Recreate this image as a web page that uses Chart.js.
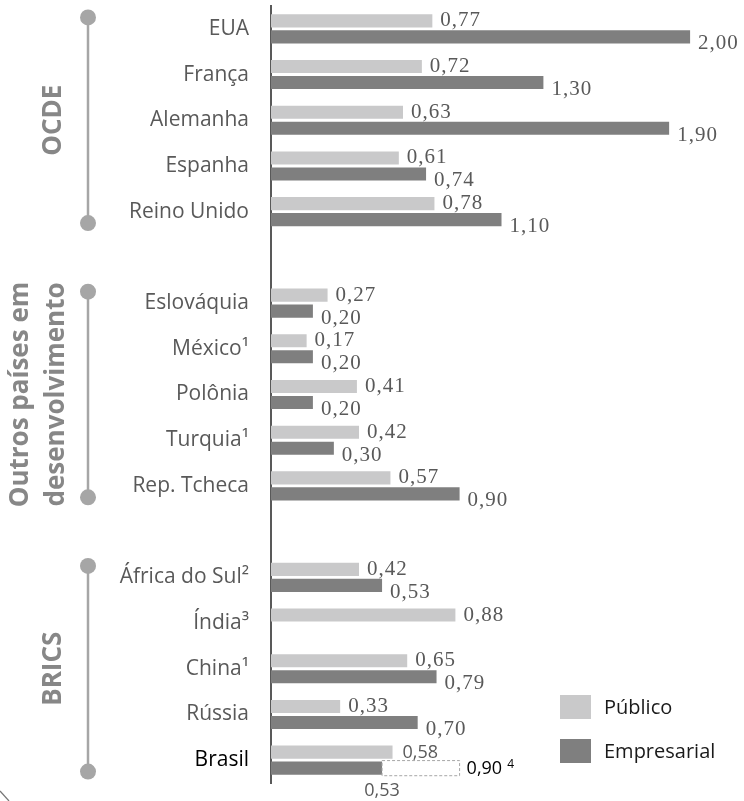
<!DOCTYPE html>
<html lang="pt-BR">
<head>
<meta charset="utf-8">
<title>Investimento em P&amp;D: público e empresarial</title>
<script src="https://cdn.jsdelivr.net/npm/chart.js@4.4.1/dist/chart.umd.min.js"></script>
<style>
  html, body { margin: 0; padding: 0; background: #fff; }
  #wrap { position: relative; width: 744px; height: 801px; }
</style>
</head>
<body>
<div id="wrap"><canvas id="rdChart"></canvas></div>
<script>
// categorias (linhas vazias separam os grupos)
const categories = [
  'EUA', 'França', 'Alemanha', 'Espanha', 'Reino Unido', '',
  'Eslováquia', 'México¹', 'Polônia', 'Turquia¹', 'Rep. Tcheca', '',
  'África do Sul²', 'Índia³', 'China¹', 'Rússia', 'Brasil'
];
const publico = [0.77, 0.72, 0.63, 0.61, 0.78, null,
                 0.27, 0.17, 0.41, 0.42, 0.57, null,
                 0.42, 0.88, 0.65, 0.33, 0.58];
const empresarial = [2.00, 1.30, 1.90, 0.74, 1.10, null,
                     0.20, 0.20, 0.20, 0.30, 0.90, null,
                     0.53, null, 0.79, 0.70, 0.53];
// estimativa para o Brasil (caixa tracejada, nota 4)
const brasilEstimado = 0.90;
const groups = [
  { label: ['OCDE'], from: 0, to: 4 },
  { label: ['Outros países em', 'desenvolvimento'], from: 6, to: 10 },
  { label: ['BRICS'], from: 12, to: 16 }
];

const brasilIdx = categories.indexOf('Brasil');
const extensao = categories.map((c, i) =>
  i === brasilIdx ? +(brasilEstimado - empresarial[i]).toFixed(2) : null);

const fmt = v => v.toFixed(2).replace('.', ',');

const decorPlugin = {
  id: 'decor',
  afterDatasetsDraw(chart) {
    const ctx = chart.ctx;
    const yScale = chart.scales.y;
    ctx.save();

    // rótulos de valores
    ctx.textAlign = 'left';
    ctx.textBaseline = 'middle';
    [0, 1].forEach(di => {
      const meta = chart.getDatasetMeta(di);
      meta.data.forEach((bar, i) => {
        const v = chart.data.datasets[di].data[i];
        if (v == null || i === brasilIdx) return;
        ctx.font = '21px "Liberation Serif"';
        ctx.letterSpacing = '1px';
        ctx.fillStyle = '#595959';
        ctx.fillText(fmt(v), bar.x + 8, bar.y + (di === 0 ? 0 : 7));
      });
    });
    ctx.letterSpacing = '0px';

    // Brasil: barra estimada tracejada + rótulos
    const pb = chart.getDatasetMeta(0).data[brasilIdx];
    const eb = chart.getDatasetMeta(1).data[brasilIdx];
    const xb = chart.getDatasetMeta(2).data[brasilIdx];
    ctx.strokeStyle = '#a6a6a6';
    ctx.lineWidth = 1;
    ctx.setLineDash([3, 2]);
    ctx.strokeRect(xb.base, xb.y - xb.height / 2 - 1, xb.x - xb.base, xb.height + 2);
    ctx.setLineDash([]);
    ctx.font = '18px "Open Sans"';
    ctx.fillStyle = '#595959';
    ctx.fillText(fmt(publico[brasilIdx]), pb.x + 10, pb.y + 1);
    ctx.fillStyle = '#000';
    ctx.fillText(fmt(brasilEstimado), xb.x + 7, xb.y + 1);
    const w = ctx.measureText(fmt(brasilEstimado)).width;
    ctx.font = '12px "Open Sans"';
    ctx.fillText('4', xb.x + 7 + w + 5, xb.y - 4);
    ctx.font = '18px "Open Sans"';
    ctx.fillStyle = '#595959';
    ctx.textAlign = 'center';
    ctx.fillText(fmt(empresarial[brasilIdx]), eb.x, eb.y + eb.height / 2 + 16);

    // chaves dos grupos
    const step = yScale.getPixelForValue(1) - yScale.getPixelForValue(0);
    const lx = 88;
    groups.forEach(g => {
      const top = yScale.getPixelForValue(g.from) - step * 0.25;
      const bot = yScale.getPixelForValue(g.to) + step * 0.25;
      ctx.strokeStyle = '#a6a6a6';
      ctx.lineWidth = 2.5;
      ctx.beginPath();
      ctx.moveTo(lx, top);
      ctx.lineTo(lx, bot);
      ctx.stroke();
      ctx.fillStyle = '#a6a6a6';
      [top, bot].forEach(y => {
        ctx.beginPath();
        ctx.arc(lx, y, 8, 0, Math.PI * 2);
        ctx.fill();
      });
      const mid = (top + bot) / 2;
      ctx.save();
      ctx.translate(0, mid);
      ctx.rotate(-Math.PI / 2);
      ctx.font = 'bold 26px "Open Sans"';
      ctx.fillStyle = '#878787';
      ctx.textAlign = 'center';
      ctx.textBaseline = 'alphabetic';
      if (g.label.length === 1) {
        ctx.fillText(g.label[0], 0, 61);
      } else {
        ctx.fillText(g.label[0], 0, 28);
        ctx.fillText(g.label[1], 0, 64);
      }
      ctx.restore();
    });

    // legenda
    const area = chart.chartArea;
    const bx = area.right - 172;
    [0, 1].forEach(di => {
      const ds = chart.data.datasets[di];
      const by = area.bottom - 88 + di * 44;
      ctx.fillStyle = ds.backgroundColor;
      ctx.fillRect(bx, by, 31, 24);
      ctx.fillStyle = '#1a1a1a';
      ctx.font = '20px "Open Sans"';
      ctx.textAlign = 'left';
      ctx.textBaseline = 'middle';
      ctx.fillText(ds.label, bx + 44, by + 13);
    });

    // traço decorativo no canto inferior esquerdo
    ctx.strokeStyle = '#777';
    ctx.lineWidth = 1.2;
    ctx.beginPath();
    ctx.moveTo(0, 791);
    ctx.lineTo(9, 801);
    ctx.stroke();

    ctx.restore();
  }
};

new Chart(document.getElementById('rdChart'), {
  type: 'bar',
  data: {
    labels: categories,
    datasets: [
      { label: 'Público', data: publico, stack: 'p',
        backgroundColor: '#c9c9ca', borderWidth: 0 },
      { label: 'Empresarial', data: empresarial, stack: 'e',
        backgroundColor: '#7f7f7f', borderWidth: 0 },
      { label: 'Estimativa', data: extensao, stack: 'e',
        backgroundColor: 'rgba(0,0,0,0)', borderWidth: 0 }
    ]
  },
  options: {
    indexAxis: 'y',
    responsive: true,
    maintainAspectRatio: false,
    animation: false,
    categoryPercentage: 0.7,
    barPercentage: 0.82,
    layout: { padding: { top: 6, bottom: 18, right: 12, left: 0 } },
    plugins: {
      legend: { display: false },
      tooltip: { enabled: false }
    },
    scales: {
      x: {
        display: false,
        stacked: true,
        min: 0,
        max: 2.2
      },
      y: {
        grid: { display: false, drawTicks: false },
        border: { display: true, color: '#595959', width: 2 },
        afterFit: scale => {
          scale.width = 271;
          scale.paddingTop = 0;
          scale.paddingBottom = 0;
        },
        ticks: {
          padding: 22,
          font: { family: 'Open Sans', size: 21 },
          color: ctx => categories[ctx.index] === 'Brasil' ? '#000' : '#595959'
        }
      }
    }
  },
  plugins: [decorPlugin]
});
</script>
</body>
</html>
